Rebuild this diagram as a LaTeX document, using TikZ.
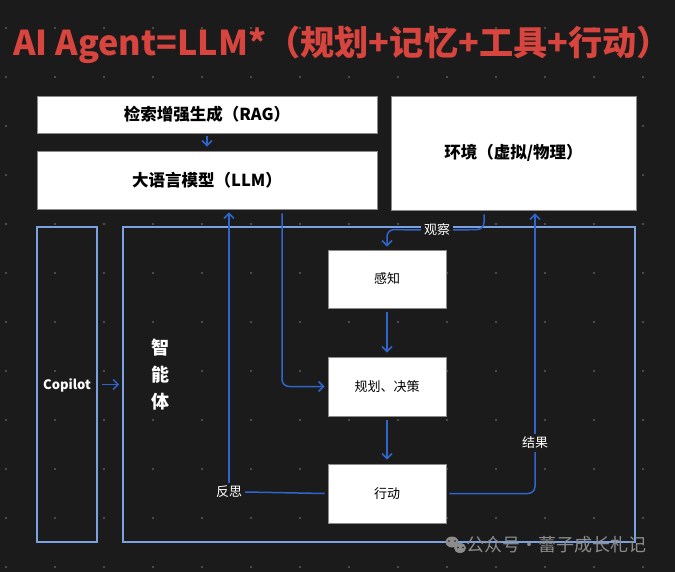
\documentclass[tikz,border=0pt]{standalone}
\usepackage{fontspec}
\setmainfont{Noto Sans CJK SC}
\usetikzlibrary{arrows.meta}

\definecolor{bgdark}{HTML}{1B1B1B}
\definecolor{griddot}{HTML}{5C5C5C}
\definecolor{titlered}{HTML}{D8443E}
\definecolor{flowblue}{HTML}{2F66CC}
\definecolor{frameblue}{HTML}{7AA2E0}
\definecolor{boxedge}{HTML}{8A8A8A}
\definecolor{markgray}{HTML}{8C8C8C}

\begin{document}
\begin{tikzpicture}[
    x=1pt, y=-1pt,
    box/.style={rectangle, draw=boxedge, fill=white, line width=0.8pt, text=black, font=\fontsize{13}{15}\selectfont},
    bigbox/.style={box, font=\fontsize{16.5}{19}\selectfont\bfseries},
    frame/.style={rectangle, draw=frameblue, line width=1.6pt},
    tag/.style={fill=bgdark, text=white, inner sep=3pt, font=\fontsize{13}{15}\selectfont},
    flow/.style={draw=flowblue, line width=1.5pt, rounded corners=7pt},
    >={Straight Barb[length=5pt, width=10pt]}
]
% Hintergrund und Punktraster
\fill[bgdark] (0,0) rectangle (675,572);
\useasboundingbox (0,0) rectangle (675,572);
\foreach \gx in {6,55,...,643}
  \foreach \gy in {28,77,...,567}
    \fill[griddot] (\gx,\gy) circle (1.2);

% Titel
\node[text=titlered, font=\fontsize{34.2}{38}\selectfont\bfseries] (title) at (342,45) {AI Agent=LLM*（规划+记忆+工具+行动）};

% Rahmen
\node[frame, minimum width=60, minimum height=315] at (67,384.5) (copilot) {};
\node[text=white, font=\fontsize{13}{15}\selectfont\bfseries] at (67,385) (copilotlabel) {Copilot};
\node[frame, minimum width=512, minimum height=315] at (379,384.5) (agent) {};
\node[text=white, font=\fontsize{18}{27}\selectfont\bfseries, align=center] at (160,375) (agentlabel) {智\\能\\体};

% Bloecke
\node[bigbox, minimum width=340, minimum height=37] at (207,114.5) (rag) {检索增强生成（RAG）};
\node[bigbox, minimum width=340, minimum height=58] at (207,180) (llm) {大语言模型（LLM）};
\node[bigbox, minimum width=245, minimum height=114] at (513.5,153) (env) {环境（虚拟/物理）};
\node[box, minimum width=118, minimum height=58] at (387,279) (perceive) {感知};
\node[box, minimum width=118, minimum height=59] at (387,386.5) (plan) {规划、决策};
\node[box, minimum width=118, minimum height=59] at (387,493.5) (act) {行动};

% Beschriftungen der Verbindungen
\node[tag] at (437,230) (observe) {观察};
\node[tag] at (229,492) (reflect) {反思};
\node[tag] at (535,443) (result) {结果};

% Verbindungspfeile
\draw[flow, ->, shorten <=3pt, shorten >=4pt] (rag) -- (llm);
\draw[flow, ->, shorten <=4pt, shorten >=3pt] (copilot.east |- agent.west) -- (agent.west);
\draw[flow] ([xshift=-29.5pt, yshift=-4pt]env.south) -- (484,229.5) -- (observe.east);
\draw[flow, ->, shorten >=3pt] (observe.west) -- (387,229.5) -- (perceive.north);
\draw[flow, ->, shorten <=4pt, shorten >=4pt] (perceive) -- (plan);
\draw[flow, ->, shorten <=4pt, shorten >=4pt] (plan) -- (act);
\draw[flow, ->, shorten <=4pt, shorten >=3pt] ([xshift=75pt]llm.south) -- (282,386.5) -- (plan.west);
\draw[flow] (act.west) ++(-3,0) -- (reflect.east);
\draw[flow, ->, shorten >=3pt] (reflect.north) -- (reflect.north |- llm.south);
\draw[flow, shorten <=3pt] (act.east) -- (535,493.5) -- (result.south);
\draw[flow, ->, shorten >=3pt] (result.north) -- (result.north |- env.south);

% Wasserzeichen
\fill[markgray] (452,542) ellipse (6.5 and 5.5);
\fill[markgray] (460,548) ellipse (6 and 5);
\fill[bgdark] (449,541) circle (0.9) (455,541) circle (0.9) (458,547.5) circle (0.8) (463,547.5) circle (0.8);
\node[text=markgray, font=\fontsize{18}{20}\selectfont, anchor=west] at (463,545) (mark) {公众号·蕾子成长札记};
\end{tikzpicture}
\end{document}
